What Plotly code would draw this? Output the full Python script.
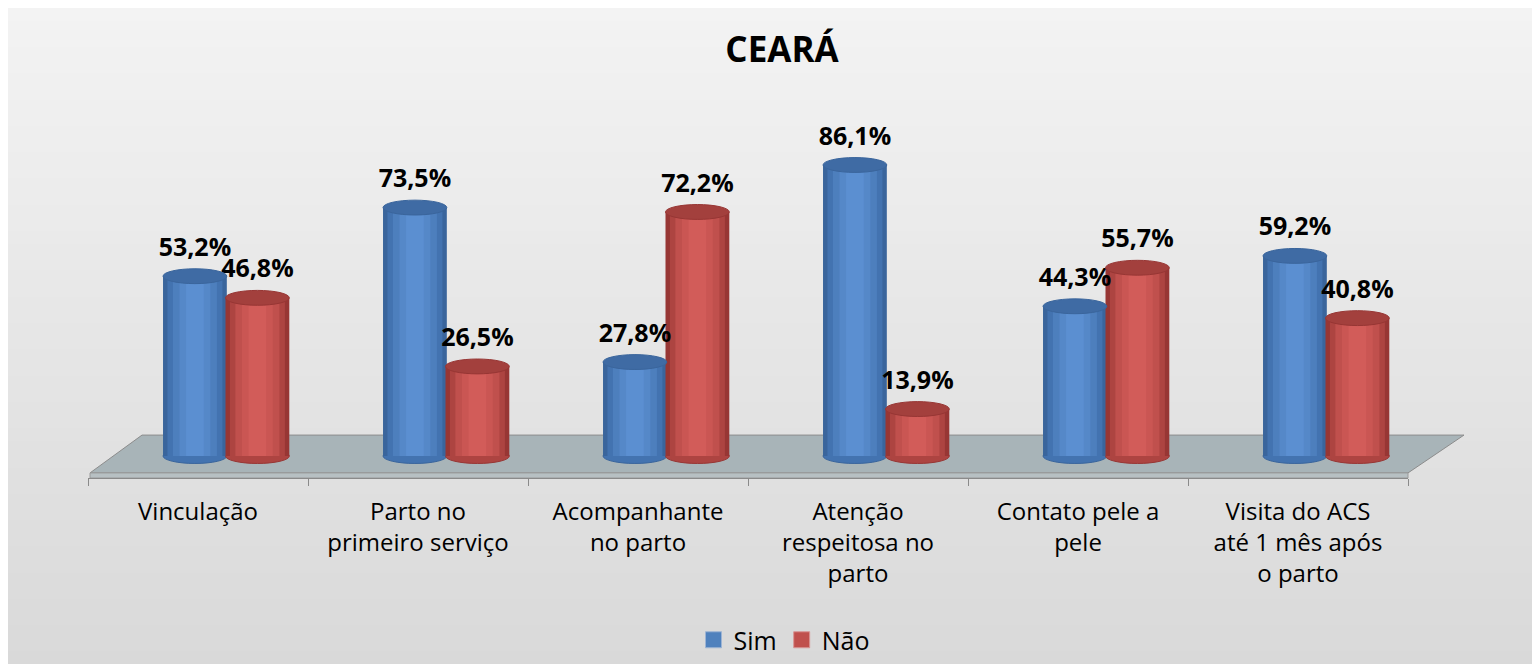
import plotly.graph_objects as go

# ---------------- data ----------------
categories = [
    "Vinculação",
    "Parto no<br>primeiro serviço",
    "Acompanhante<br>no parto",
    "Atenção<br>respeitosa no<br>parto",
    "Contato pele a<br>pele",
    "Visita do ACS<br>até 1 mês após<br>o parto",
]
sim = [53.2, 73.5, 27.8, 86.1, 44.3, 59.2]
nao = [46.8, 26.5, 72.2, 13.9, 55.7, 40.8]
series_names = ["Sim", "Não"]
title_text = "CEARÁ"

# ---------------- layout geometry ----------------
# page body has an 8px margin, so the figure is drawn 8px smaller
W, H = 1532, 656
L, R, T, B = 80, 132, 110, 186
PW, PH = W - L - R, H - T - B
YMIN, YMAX = -6.5, 100
FONT = "Open Sans"


def pxx(px):
    return (px - L) / PW


def pxy(py):
    return (H - B - py) / PH


xs = list(range(len(categories)))

styles = [
    # dx offset, layer colours (dark -> light), cap colour, legend colour
    (-0.014, ["#3a659c", "#4373b0", "#4d7fbd", "#5588c8", "#5b8fd1"], "#3f6ba4", "#4f81bd"),
    (0.27, ["#973634", "#ad4441", "#c0504d", "#ca5653", "#d25c59"], "#a3403d", "#c0504d"),
]
layer_widths = [0.29, 0.25, 0.2, 0.14, 0.08]
CAP_H = 2.2

fig = go.Figure()
shapes = []

# background gradient (stepped)
n_bands = 50
for k in range(n_bands):
    y0p = H * k / n_bands
    y1p = H * (k + 1) / n_bands + 1
    t = k / (n_bands - 1)
    g = round(243 - (243 - 217) * t)
    col = f"rgb({g},{g},{g})"
    shapes.append(dict(type="rect", xref="paper", yref="paper", layer="below",
                       x0=pxx(0), x1=pxx(W + 10), y0=pxy(y1p), y1=pxy(y0p),
                       fillcolor=col, line=dict(width=0)))

# floor (x in paper units so it can reach past the plot area)
bl, br, tr, tl = pxx(82), pxx(1400), pxx(1456), pxx(134)
floor_path = f"M {bl},-5.0 L {br},-5.0 L {tr},6.2 L {tl},6.2 Z"
shapes.append(dict(type="path", path=floor_path, xref="paper", yref="y", layer="below",
                   fillcolor="#a8b4b8", line=dict(color="#8c8c8c", width=1)))
front_path = f"M {bl},-5.0 L {br},-5.0 L {br},-6.5 L {bl},-6.5 Z"
shapes.append(dict(type="path", path=front_path, xref="paper", yref="y", layer="below",
                   fillcolor="#b7c0c3", line=dict(color="#9a9a9a", width=1)))

for name, vals, (dx, cols, cap, lcol) in zip(series_names, [sim, nao], styles):
    for j, (lw, col) in enumerate(zip(layer_widths, cols)):
        fig.add_trace(go.Bar(
            x=[i + dx for i in xs], y=vals, width=lw,
            marker=dict(color=col, line=dict(width=0)),
            name=name, legendgroup=name, showlegend=False, hoverinfo="skip",
        ))
    # legend entry with a larger square swatch
    fig.add_trace(go.Scatter(
        x=[None], y=[None], mode="markers", name=name, legendgroup=name,
        marker=dict(symbol="square", size=18, color=lcol,
                    line=dict(color="#9db4d4" if name == "Sim" else "#d99594", width=1)),
        showlegend=True, hoverinfo="skip",
    ))
    hw = layer_widths[0] / 2
    for i, v in zip(xs, vals):
        shapes.append(dict(type="circle", xref="x", yref="y", layer="below",
                           x0=i + dx - hw, x1=i + dx + hw, y0=-CAP_H, y1=CAP_H,
                           fillcolor=cols[1], line=dict(color=cols[0], width=1)))
        shapes.append(dict(type="circle", xref="x", yref="y", layer="above",
                           x0=i + dx - hw, x1=i + dx + hw, y0=v - CAP_H, y1=v + CAP_H,
                           fillcolor=cap, line=dict(color=cols[0], width=1)))
    fig.add_trace(go.Scatter(
        x=[i + dx for i in xs], y=[v + CAP_H + 2.0 for v in vals],
        mode="text", text=[f"{v:.1f}%".replace(".", ",") for v in vals],
        textposition="top center",
        textfont=dict(family=FONT, size=25, color="#000000", weight="bold"),
        showlegend=False, hoverinfo="skip", cliponaxis=False,
    ))

fig.update_layout(
    width=W, height=H,
    margin=dict(l=L, r=R, t=T, b=B, autoexpand=False),
    paper_bgcolor="#ffffff", plot_bgcolor="rgba(0,0,0,0)",
    barmode="overlay",
    shapes=shapes,
    title=dict(text="<b>" + title_text + "</b>", x=(782 - 8) / W, xanchor="center",
               y=1 - 42 / H, yanchor="middle",
               font=dict(family=FONT, size=35, color="#000000")),
    legend=dict(orientation="h", x=pxx(776), xanchor="center", y=pxy(632), yanchor="middle",
                font=dict(family=FONT, size=25, color="#000000"),
                bgcolor="rgba(0,0,0,0)", traceorder="normal", itemwidth=30),
    xaxis=dict(range=[-0.5, 5.5], tickmode="array", tickvals=xs, ticktext=categories,
               ticks="", showgrid=False, zeroline=False,
               showline=True, linecolor="#8a8a8a", linewidth=1,
               tickfont=dict(family=FONT, size=24, color="#000000"),
               ticklabelstandoff=12,
               minor=dict(tickmode="array", tickvals=[i - 0.5 for i in range(len(categories) + 1)],
                          ticks="outside", ticklen=7, tickcolor="#8a8a8a", showgrid=False)),
    yaxis=dict(range=[YMIN, YMAX], visible=False),
)

fig.write_html("out.html")
